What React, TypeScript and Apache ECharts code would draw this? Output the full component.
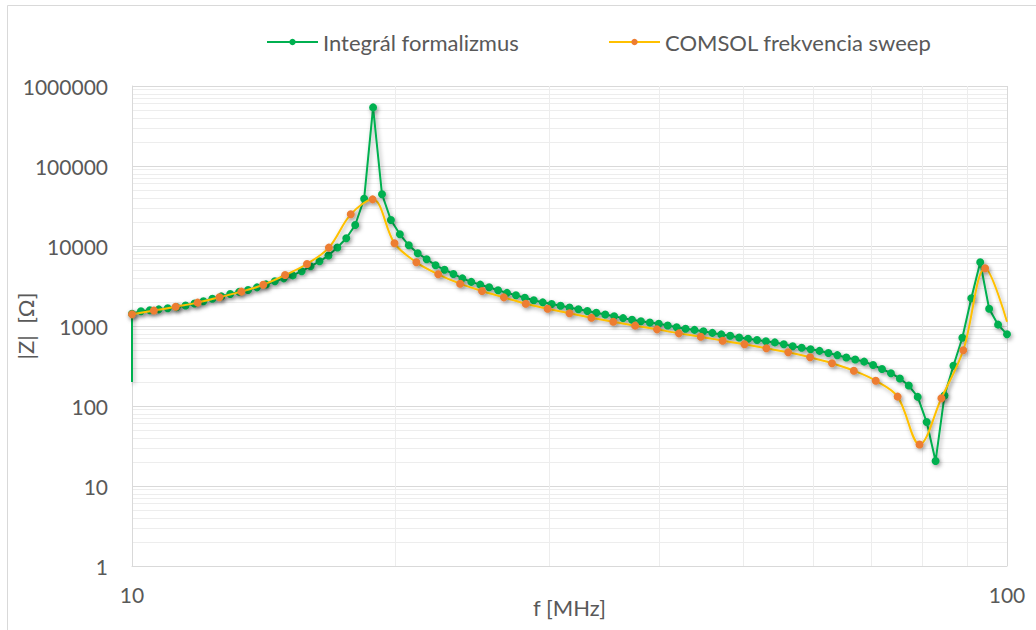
import React, { useEffect, useRef } from "react";
import * as echarts from "echarts";

// ---- data ----
const GREEN_NAME = "Integrál formalizmus";
const ORANGE_NAME = "COMSOL frekvencia sweep";

// first green sample (line starts low at 10 MHz)
const GREEN_START = [10, 200];

// Integrál formalizmus: frequency [MHz]
const GREEN_F = [
  10.0, 10.238, 10.481, 10.73, 10.985, 11.247, 11.514, 11.788, 12.068, 12.355,
  12.649, 12.949, 13.257, 13.572, 13.895, 14.225, 14.563, 14.909, 15.264, 15.627,
  15.998, 16.379, 16.768, 17.167, 17.575, 17.993, 18.421, 18.859, 19.307, 19.766,
  20.236, 20.717, 21.21, 21.714, 22.23, 22.759, 23.3, 23.854, 24.421, 25.002,
  25.596, 26.205, 26.828, 27.466, 28.119, 28.787, 29.472, 30.172, 30.89, 31.623,
  32.375, 33.145, 33.933, 34.74, 35.566, 36.411, 37.277, 38.162, 39.069, 39.998,
  40.949, 41.923, 42.92, 43.94, 44.985, 46.054, 47.149, 48.27, 49.418, 50.593,
  51.796, 53.026, 54.287, 55.578, 56.899, 58.252, 59.637, 61.055, 62.506, 63.992,
  65.513, 67.071, 68.666, 70.298, 71.969, 73.68, 75.432, 77.225, 79.061, 80.941,
  82.865, 84.835, 86.851, 88.916, 91.03, 93.194, 95.41, 97.678, 100.0,
];
// Integrál formalizmus: |Z| [Ohm]
const GREEN_Z = [
  1420, 1530, 1575, 1615, 1665, 1720, 1800, 1910, 2035, 2190,
  2345, 2510, 2670, 2825, 3040, 3310, 3620, 3940, 4290, 4840,
  5575, 6440, 7590, 9570, 12500, 18300, 39000, 540000, 44300, 21100,
  14000, 10200, 8110, 6840, 5740, 5055, 4470, 3940, 3560, 3290,
  3050, 2800, 2595, 2425, 2250, 2095, 1975, 1880, 1790, 1705,
  1620, 1540, 1465, 1395, 1325, 1255, 1195, 1145, 1105, 1065,
  1015, 963, 925, 894, 859, 820, 785, 756, 718, 692,
  667, 644, 624, 592, 559, 534, 513, 489, 460, 432,
  404, 382, 359, 325, 290, 257, 221, 180, 130, 63,
  20.5, 135, 319, 714, 2220, 6260, 1645, 1040, 787,
];

// COMSOL frekvencia sweep: frequency [MHz]
const ORANGE_F = [
  10.0, 10.593, 11.22, 11.885, 12.589, 13.335, 14.125, 14.962, 15.849, 16.788,
  17.783, 18.836, 19.953, 21.135, 22.387, 23.714, 25.119, 26.607, 28.184, 29.854,
  31.623, 33.497, 35.481, 37.584, 39.811, 42.17, 44.668, 47.315, 50.119, 53.088,
  56.234, 59.566, 63.096, 66.834, 70.795, 74.989, 79.433, 84.14, 89.125, 94.406,
  100.0,
];
// COMSOL frekvencia sweep: |Z| [Ohm]
const ORANGE_Z = [
  1400, 1560, 1740, 1960, 2290, 2690, 3280, 4340, 5960, 9550,
  24900, 38300, 10800, 6250, 4430, 3380, 2740, 2280, 1900, 1645,
  1440, 1270, 1130, 1010, 908, 809, 735, 655, 590, 526,
  469, 406, 342, 276, 207, 131, 33, 125, 497, 5260,
  1130,
];

const X_NAME = "f [MHz]";
const Y_NAME = "|Z|  [Ω]";

const FONT = "Lato, Roboto, sans-serif";
const TEXT_COLOR = "#595959";

export default function App() {
  const ref = useRef<HTMLDivElement>(null);

  useEffect(() => {
    if (!ref.current) return;
    const chart = echarts.init(ref.current, undefined, { renderer: "svg" });

    const greenData: any[] = [
      { value: GREEN_START, symbol: "none" },
      ...GREEN_F.map((f, i) => [f, GREEN_Z[i]]),
    ];
    const orangeData: any[] = ORANGE_F.map((f, i) =>
      i === ORANGE_F.length - 1
        ? { value: [f, ORANGE_Z[i]], symbol: "none" }
        : [f, ORANGE_Z[i]]
    );

    const shadow = {
      shadowColor: "rgba(0,0,0,0.35)",
      shadowBlur: 4,
      shadowOffsetX: 1.5,
      shadowOffsetY: 2,
    };

    const legendBase = {
      top: 26,
      itemWidth: 51,
      itemHeight: 8,
      itemGap: 0,
      textStyle: { color: TEXT_COLOR, fontFamily: FONT, fontSize: 22 },
    };

    const option: any = {
      animation: false,
      backgroundColor: "#ffffff",
      graphic: [
        {
          type: "rect",
          silent: true,
          z: -1,
          shape: { x: 7.5, y: 5.5, width: 1100, height: 700 },
          style: { fill: "none", stroke: "#D9D9D9", lineWidth: 1 },
        },
      ],
      legend: [
        { ...legendBase, left: 261, data: [GREEN_NAME] },
        { ...legendBase, left: 603, data: [ORANGE_NAME] },
      ],
      grid: {
        left: 132,
        right: 29,
        top: 86,
        bottom: 64,
        containLabel: false,
        outerBoundsMode: "none",
      },
      xAxis: {
        type: "log",
        logBase: 10,
        min: 10,
        max: 100,
        name: X_NAME,
        nameLocation: "middle",
        nameGap: 30,
        nameMoveOverlap: false,
        nameTextStyle: { color: TEXT_COLOR, fontFamily: FONT, fontSize: 22 },
        axisLine: { show: true, lineStyle: { color: "#D9D9D9", width: 1 } },
        axisTick: { show: false },
        axisLabel: {
          color: TEXT_COLOR,
          fontFamily: FONT,
          fontSize: 21,
          margin: 18,
          formatter: (v: number) => String(v),
        },
        splitLine: { show: true, lineStyle: { color: "#D9D9D9", width: 1 } },
        minorTick: { show: false, splitNumber: 9 },
        minorSplitLine: { show: true, lineStyle: { color: "#EDEDED", width: 1 } },
      },
      yAxis: {
        type: "log",
        logBase: 10,
        min: 1,
        max: 1000000,
        name: Y_NAME,
        nameLocation: "middle",
        nameGap: 96,
        nameMoveOverlap: false,
        nameTextStyle: { color: TEXT_COLOR, fontFamily: FONT, fontSize: 22 },
        axisLine: { show: true, lineStyle: { color: "#D9D9D9", width: 1 } },
        axisTick: { show: false },
        axisLabel: {
          color: TEXT_COLOR,
          fontFamily: FONT,
          fontSize: 21,
          margin: 24,
          formatter: (v: number) => String(v),
        },
        splitLine: { show: true, lineStyle: { color: "#D9D9D9", width: 1 } },
        minorTick: { show: false, splitNumber: 9 },
        minorSplitLine: { show: true, lineStyle: { color: "#EDEDED", width: 1 } },
      },
      series: [
        {
          name: GREEN_NAME,
          type: "line",
          data: greenData,
          smooth: false,
          symbol: "circle",
          symbolSize: 8,
          lineStyle: { color: "#00B050", width: 2, ...shadow },
          itemStyle: { color: "#00B050", ...shadow },
          emphasis: { disabled: true },
          z: 2,
        },
        {
          name: ORANGE_NAME,
          type: "line",
          data: orangeData,
          smooth: 0.35,
          symbol: "circle",
          symbolSize: 8,
          lineStyle: { color: "#FFC000", width: 2, ...shadow },
          itemStyle: { color: "#ED7D31", ...shadow },
          emphasis: { disabled: true },
          z: 3,
        },
      ],
    };

    chart.setOption(option);
    return () => chart.dispose();
  }, []);

  return (
    <div
      ref={ref}
      style={{ position: "absolute", left: 0, top: 0, width: 1036, height: 630 }}
    />
  );
}
